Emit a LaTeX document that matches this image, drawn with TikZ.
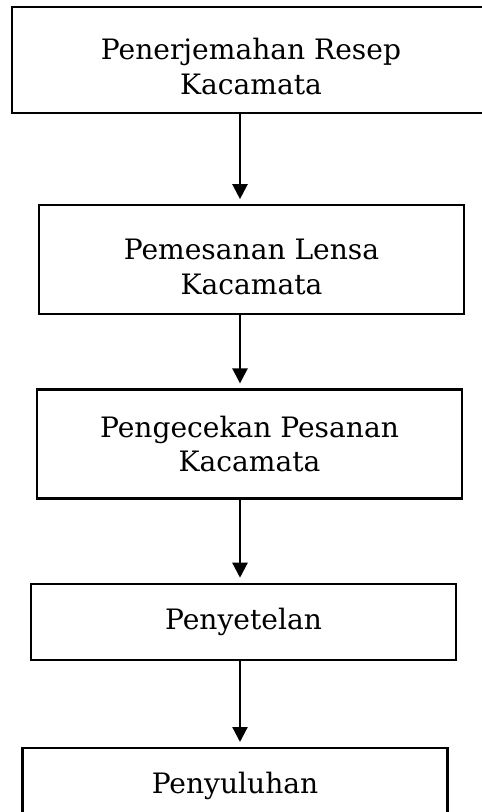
\documentclass[tikz,border=0pt]{standalone}
\usepackage{fontspec}
\setmainfont{DejaVu Serif}
\usetikzlibrary{arrows.meta,positioning}

\begin{document}
\begin{tikzpicture}[->,>={Triangle[width=0.3cm,length=0.3cm]},line width=1.3pt,node distance=1.8cm,stepbox/.style={draw,rectangle,align=center,minimum width=8.5cm,minimum height=2.18cm,font=\fontsize{16}{19.8}\selectfont}]

  \useasboundingbox (0,0) rectangle (9.64,-16.24);

  \node[stepbox,minimum width=9.56cm,minimum height=2.12cm,text height=1.38cm] (resep) at (5.02,-1.2) {Penerjemahan Resep\\Kacamata};
  \node[stepbox,text height=1.38cm] (lensa) [below=1.8cm of resep,xshift=0.01cm] {Pemesanan Lensa\\Kacamata};
  \node[stepbox] (cek) [below=1.46cm of lensa,xshift=-0.04cm] {Pengecekan Pesanan\\Kacamata};
  \node[stepbox,minimum height=1.52cm] (setel) [below=1.66cm of cek,xshift=-0.12cm] {Penyetelan};
  \node[stepbox,minimum height=1.52cm] (suluh) [below=1.72cm of setel,xshift=-0.17cm] {Penyuluhan};

  \coordinate (mid) at (4.8,0);

  \path[shorten >=0.1cm]
    (resep.south -| mid) edge (lensa.north -| mid)
    (lensa.south -| mid) edge (cek.north -| mid)
    (cek.south -| mid) edge (setel.north -| mid)
    (setel.south -| mid) edge (suluh.north -| mid);

\end{tikzpicture}
\end{document}
